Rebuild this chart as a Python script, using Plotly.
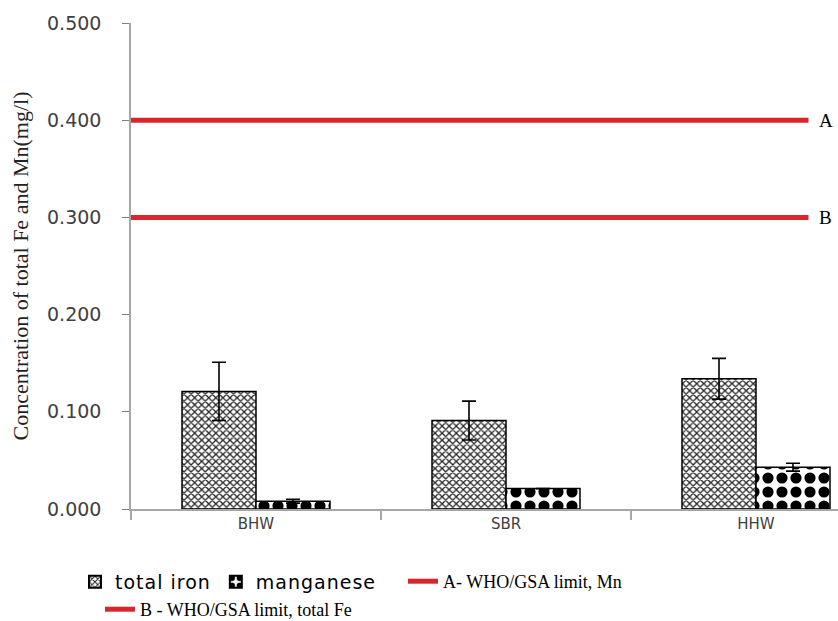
import plotly.graph_objects as go

# ---- data ----
sites = ["BHW", "SBR", "HHW"]
total_iron = [0.121, 0.091, 0.134]
total_iron_err = [0.030, 0.020, 0.021]
manganese = [0.008, 0.021, 0.043]
manganese_err = [0.002, 0.0, 0.004]
limit_mn = 0.400   # A - WHO/GSA limit, Mn
limit_fe = 0.300   # B - WHO/GSA limit, total Fe
y_ticks = [0.0, 0.1, 0.2, 0.3, 0.4, 0.5]

# ---- layout constants ----
W, H = 838, 621
ML, MT, MB = 131, 23, 112
X_MIN = -0.5
X_MAX = 2.328
LINE_X0, LINE_X1 = -0.5, 2.21
RED = "#d9262c"
SANS = "DejaVu Sans"
SERIF = "Liberation Serif"
SP = "<span style='letter-spacing:1px'>{}</span>"

fig = go.Figure()

fig.add_trace(go.Bar(
    x=sites, y=total_iron, name=SP.format("total iron"),
    marker=dict(color="white", line=dict(color="black", width=1.5),
                pattern=dict(shape="x", fgcolor="black", bgcolor="white",
                             fgopacity=0.85, size=5, solidity=0.45)),
    error_y=dict(type="data", array=total_iron_err, color="black",
                 thickness=1.6, width=7),
    legend="legend",
))
fig.add_trace(go.Bar(
    x=sites, y=manganese, name=SP.format("manganese"),
    marker=dict(color="white", line=dict(color="black", width=1.5),
                pattern=dict(shape=".", fgcolor="#000000", bgcolor="white",
                             fgopacity=1, size=14, solidity=0.5)),
    error_y=dict(type="data", array=manganese_err, color="black",
                 thickness=1.6, width=7),
    legend="legend",
))

fig.add_trace(go.Scatter(
    x=[LINE_X0, LINE_X1], y=[limit_mn, limit_mn], mode="lines",
    line=dict(color=RED, width=5), name="A- WHO/GSA limit, Mn",
    legend="legend2", xaxis="x2",
))
fig.add_trace(go.Scatter(
    x=[LINE_X0, LINE_X1], y=[limit_fe, limit_fe], mode="lines",
    line=dict(color=RED, width=5), name="B - WHO/GSA limit, total Fe",
    legend="legend3", xaxis="x2",
))

for lab, val in (("A", limit_mn), ("B", limit_fe)):
    fig.add_annotation(x=LINE_X1, y=val, xref="x2", yref="y", text=lab,
                       showarrow=False, xanchor="left", xshift=8,
                       font=dict(family=SERIF, size=19, color="black"))

fig.update_layout(
    width=W, height=H,
    margin=dict(l=ML, r=0, t=MT, b=MB, pad=0),
    paper_bgcolor="white", plot_bgcolor="white",
    barmode="group", bargap=0.408, bargroupgap=0,
    showlegend=True,
    xaxis=dict(
        type="category", range=[X_MIN, X_MAX],
        showline=True, linecolor="#a6a6a6", linewidth=1.5,
        ticks="outside", tickson="boundaries", ticklen=9,
        tickcolor="#a6a6a6", tickwidth=1.5,
        tickfont=dict(family=SANS, size=15, color="#404040"),
        showgrid=False, zeroline=False,
    ),
    xaxis2=dict(
        overlaying="x", range=[X_MIN, X_MAX], visible=False,
        showgrid=False, zeroline=False,
    ),
    yaxis=dict(
        range=[0, 0.5], tickvals=y_ticks, tickformat=".3f",
        showline=True, linecolor="#a6a6a6", linewidth=1.5,
        ticks="outside", ticklen=7, tickcolor="#7f7f7f", tickwidth=1.2,
        ticklabelstandoff=17,
        tickfont=dict(family=SANS, size=19, color="#404040"),
        showgrid=False, zeroline=False,
        title=dict(text="Concentration of total Fe and Mn(mg/l)",
                   font=dict(family=SERIF, size=22, color="#222222"),
                   standoff=12),
    ),
    legend=dict(orientation="h", xref="container", yref="container",
                x=0.0895, y=0.0934, xanchor="left", yanchor="top",
                font=dict(family=SANS, size=19, color="black"),
                bgcolor="rgba(0,0,0,0)", itemsizing="constant"),
    legend2=dict(orientation="h", xref="container", yref="container",
                 x=0.4809, y=0.0934, xanchor="left", yanchor="top",
                 font=dict(family=SERIF, size=18, color="black"),
                 bgcolor="rgba(0,0,0,0)"),
    legend3=dict(orientation="h", xref="container", yref="container",
                 x=0.1193, y=0.0483, xanchor="left", yanchor="top",
                 font=dict(family=SERIF, size=18, color="black"),
                 bgcolor="rgba(0,0,0,0)"),
)

fig.write_html("out.html",
               config={"displayModeBar": False},
               post_script="document.body.style.margin='0px';"
                           "document.body.style.overflow='hidden';")
